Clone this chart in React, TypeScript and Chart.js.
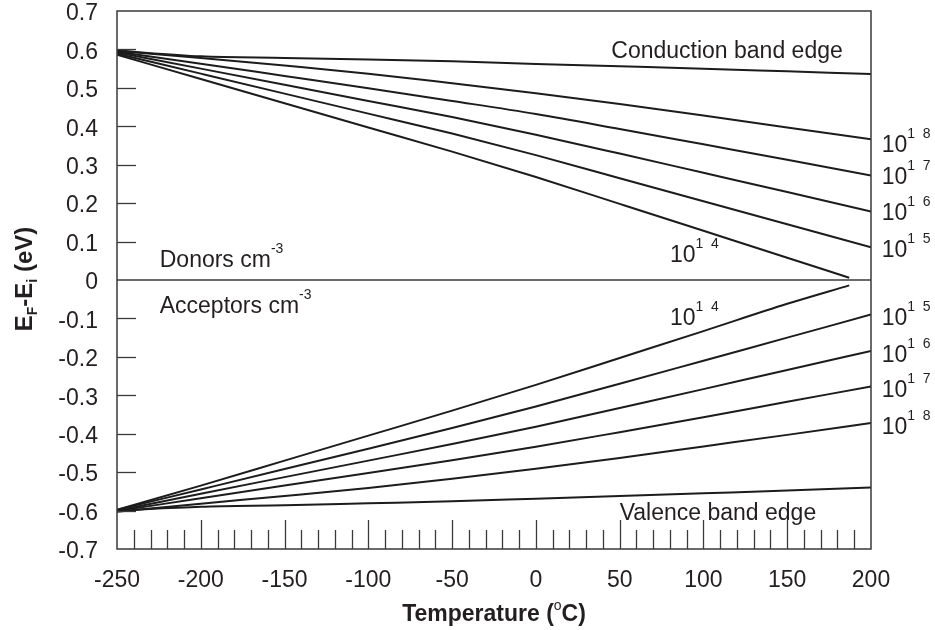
import React, { useEffect, useRef } from "react";
import { Chart, registerables } from "chart.js";

Chart.register(...registerables);

// ---------- data ----------
const temps = [-250, -200, -150, -100, -50, 0, 50, 100, 150, 200];
const temps14 = [-250, -200, -150, -100, -50, 0, 50, 100, 150, 187];

const conductionEdge = [0.597, 0.582, 0.578, 0.574, 0.569, 0.562, 0.556, 0.55, 0.543, 0.536];
const donor1e18 = [0.596, 0.578, 0.558, 0.537, 0.512, 0.486, 0.458, 0.428, 0.397, 0.366];
const donor1e17 = [0.594, 0.563, 0.531, 0.499, 0.466, 0.432, 0.393, 0.353, 0.313, 0.272];
const donor1e16 = [0.592, 0.55, 0.508, 0.466, 0.424, 0.378, 0.329, 0.279, 0.229, 0.178];
const donor1e15 = [0.589, 0.537, 0.485, 0.433, 0.381, 0.325, 0.265, 0.205, 0.145, 0.085];
const donor1e14 = [0.586, 0.523, 0.46, 0.397, 0.334, 0.268, 0.198, 0.128, 0.058, 0.006];

const acceptor1e14 = [-0.598, -0.535, -0.47, -0.405, -0.34, -0.273, -0.203, -0.133, -0.062, -0.014];
const acceptor1e15 = [-0.598, -0.545, -0.492, -0.439, -0.385, -0.329, -0.27, -0.21, -0.15, -0.09];
const acceptor1e16 = [-0.6, -0.556, -0.513, -0.47, -0.427, -0.382, -0.333, -0.284, -0.234, -0.185];
const acceptor1e17 = [-0.601, -0.568, -0.535, -0.502, -0.469, -0.434, -0.396, -0.357, -0.317, -0.277];
const acceptor1e18 = [-0.603, -0.582, -0.562, -0.541, -0.517, -0.491, -0.463, -0.433, -0.403, -0.372];
const valenceEdge = [-0.6, -0.59, -0.586, -0.581, -0.576, -0.569, -0.562, -0.555, -0.548, -0.54];

const xMin = -250;
const xMax = 200;
const xStep = 50;
const yMin = -0.7;
const yMax = 0.7;
const yStep = 0.1;

// ---------- styling ----------
const FONT = '"Liberation Sans", Arial, Helvetica, sans-serif';
const INK = "#231f20";
const FRAME = "#3a3a3a";

type Part = { t: string; size: number; dy?: number; bold?: boolean };
type Note = { T: number; v: number; parts: Part[] };

const sup = (s: string): Part => ({ t: s, size: 14, dy: -14 });
const big = (s: string): Part => ({ t: s, size: 23 });

const notes: Note[] = [
  { T: 45, v: 0.578, parts: [big("Conduction band edge")] },
  { T: 50, v: -0.6255, parts: [big("Valence band edge")] },
  { T: -224.5, v: 0.034, parts: [big("Donors cm"), sup("-3")] },
  { T: -224.5, v: -0.0865, parts: [big("Acceptors cm"), sup("-3")] },
  { T: 80, v: 0.046, parts: [big("10"), sup("1  4")] },
  { T: 80, v: -0.118, parts: [big("10"), sup("1  4")] },
  { T: 206.4, v: 0.333, parts: [big("10"), sup("1  8")] },
  { T: 206.4, v: 0.249, parts: [big("10"), sup("1  7")] },
  { T: 206.4, v: 0.155, parts: [big("10"), sup("1  6")] },
  { T: 206.4, v: 0.061, parts: [big("10"), sup("1  5")] },
  { T: 206.4, v: -0.116, parts: [big("10"), sup("1  5")] },
  { T: 206.4, v: -0.213, parts: [big("10"), sup("1  6")] },
  { T: 206.4, v: -0.304, parts: [big("10"), sup("1  7")] },
  { T: 206.4, v: -0.4, parts: [big("10"), sup("1  8")] },
];

function drawParts(ctx: CanvasRenderingContext2D, x: number, y: number, parts: Part[]) {
  let cx = x;
  for (const p of parts) {
    ctx.font = `${p.bold ? "bold " : ""}${p.size}px ${FONT}`;
    ctx.fillText(p.t, cx, y + (p.dy || 0));
    cx += ctx.measureText(p.t).width;
  }
}

function partsWidth(ctx: CanvasRenderingContext2D, parts: Part[]) {
  let w = 0;
  for (const p of parts) {
    ctx.font = `${p.bold ? "bold " : ""}${p.size}px ${FONT}`;
    w += ctx.measureText(p.t).width;
  }
  return w;
}

const decorPlugin = {
  id: "decor",
  afterDatasetsDraw(chart: any) {
    const ctx: CanvasRenderingContext2D = chart.ctx;
    const { left, right, top, bottom } = chart.chartArea;
    const xs = chart.scales.x;
    const ys = chart.scales.y;
    ctx.save();
    ctx.strokeStyle = FRAME;
    ctx.lineWidth = 1.5;
    // frame
    ctx.strokeRect(left, top, right - left, bottom - top);
    // zero line
    const y0 = ys.getPixelForValue(0);
    ctx.beginPath();
    ctx.moveTo(left, y0);
    ctx.lineTo(right, y0);
    ctx.stroke();
    // inner y ticks
    ctx.lineWidth = 1.3;
    for (let k = -6; k <= 6; k++) {
      if (k === 0) continue;
      const py = Math.round(ys.getPixelForValue(k / 10)) + 0.5;
      ctx.beginPath();
      ctx.moveTo(left, py);
      ctx.lineTo(left + 19, py);
      ctx.stroke();
    }
    // inner x ticks
    for (let t = xMin + 10; t < xMax; t += 10) {
      const px = Math.round(xs.getPixelForValue(t)) + 0.5;
      const len = t % 50 === 0 ? 29 : 19;
      ctx.beginPath();
      ctx.moveTo(px, bottom);
      ctx.lineTo(px, bottom - len);
      ctx.stroke();
    }
    ctx.restore();

    // annotations
    ctx.save();
    ctx.fillStyle = INK;
    ctx.textBaseline = "alphabetic";
    ctx.textAlign = "left";
    for (const n of notes) {
      drawParts(ctx, xs.getPixelForValue(n.T), ys.getPixelForValue(n.v), n.parts);
    }

    // x axis title
    const xt: Part[] = [
      { t: "Temperature (", size: 23, bold: true },
      { t: "o", size: 14, dy: -11 },
      { t: "C)", size: 23, bold: true },
    ];
    const wx = partsWidth(ctx, xt);
    drawParts(ctx, (left + right) / 2 - wx / 2, 621, xt);

    // y axis title (rotated)
    const yt: Part[] = [
      { t: "E", size: 24, bold: true },
      { t: "F", size: 14, bold: true, dy: 5 },
      { t: "-E", size: 24, bold: true },
      { t: "i", size: 14, bold: true, dy: 5 },
      { t: " (eV)", size: 24, bold: true },
    ];
    const wy = partsWidth(ctx, yt);
    ctx.translate(32, 279);
    ctx.rotate(-Math.PI / 2);
    drawParts(ctx, -wy / 2, 0, yt);
    ctx.restore();
  },
};

function series(xsArr: number[], ysArr: number[]) {
  return xsArr.map((x, i) => ({ x, y: ysArr[i] }));
}

export default function App() {
  const ref = useRef<HTMLCanvasElement | null>(null);

  useEffect(() => {
    if (!ref.current) return;
    const lineStyle = {
      borderColor: "#1c1c1c",
      borderWidth: 2,
      pointRadius: 0,
      fill: false,
      cubicInterpolationMode: "monotone" as const,
    };
    const chart = new Chart(ref.current, {
      type: "line",
      data: {
        datasets: [
          { label: "Conduction band edge", data: series(temps, conductionEdge), ...lineStyle },
          { label: "Donors 1e18", data: series(temps, donor1e18), ...lineStyle },
          { label: "Donors 1e17", data: series(temps, donor1e17), ...lineStyle },
          { label: "Donors 1e16", data: series(temps, donor1e16), ...lineStyle },
          { label: "Donors 1e15", data: series(temps, donor1e15), ...lineStyle },
          { label: "Donors 1e14", data: series(temps14, donor1e14), ...lineStyle },
          { label: "Acceptors 1e14", data: series(temps14, acceptor1e14), ...lineStyle },
          { label: "Acceptors 1e15", data: series(temps, acceptor1e15), ...lineStyle },
          { label: "Acceptors 1e16", data: series(temps, acceptor1e16), ...lineStyle },
          { label: "Acceptors 1e17", data: series(temps, acceptor1e17), ...lineStyle },
          { label: "Acceptors 1e18", data: series(temps, acceptor1e18), ...lineStyle },
          { label: "Valence band edge", data: series(temps, valenceEdge), ...lineStyle },
        ],
      },
      options: {
        responsive: false,
        animation: false,
        devicePixelRatio: 1,
        layout: { padding: { left: 0, top: 11, right: 64, bottom: 0 } },
        plugins: {
          legend: { display: false },
          tooltip: { enabled: false },
        },
        scales: {
          x: {
            type: "linear",
            min: xMin,
            max: xMax,
            grid: { display: false, drawTicks: false },
            border: { display: false },
            ticks: {
              stepSize: xStep,
              autoSkip: false,
              maxRotation: 0,
              padding: 18,
              color: INK,
              font: { family: FONT, size: 23 },
            },
            afterFit: (s: any) => {
              s.height = 81;
              s.paddingLeft = 0;
              s.paddingRight = 0;
            },
          },
          y: {
            type: "linear",
            min: yMin,
            max: yMax,
            grid: { display: false, drawTicks: false },
            border: { display: false },
            ticks: {
              stepSize: yStep,
              autoSkip: false,
              padding: 19,
              labelOffset: 3,
              color: INK,
              font: { family: FONT, size: 23 },
              callback: (v: any) => {
                const r = Math.round(Number(v) * 10) / 10;
                return r === 0 ? "0" : r.toFixed(1);
              },
            },
            afterFit: (s: any) => {
              s.width = 117;
              s.paddingTop = 0;
              s.paddingBottom = 0;
            },
          },
        },
      },
      plugins: [decorPlugin],
    });
    return () => chart.destroy();
  }, []);

  return (
    <div style={{ position: "absolute", left: 0, top: 0, width: 935, height: 630, background: "#fff" }}>
      <canvas ref={ref} width={935} height={630} style={{ display: "block" }} />
    </div>
  );
}
